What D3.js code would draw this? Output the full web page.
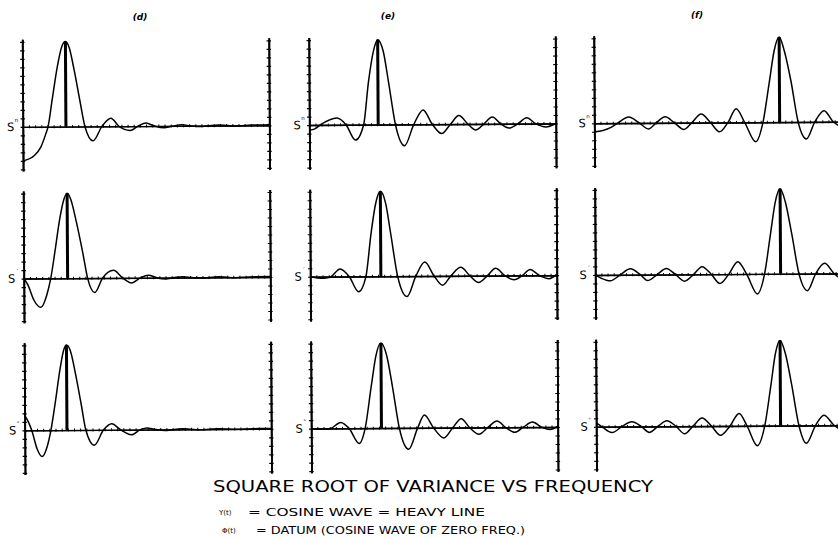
<!DOCTYPE html>
<html>
<head>
<meta charset="utf-8">
<script src="https://cdn.jsdelivr.net/npm/d3@7"></script>
<style>
  body { margin: 0; background: #fff; }
  svg { display: block; }
</style>
</head>
<body>
<div class="chart"></div>
<script>
// sqrt of variance vs frequency, columns (d) (e) (f), three rows each
const panelLetters = ['(d)', '(e)', '(f)'];
const rowMarks = ['n', '\u00b4', '\u00b0'];

// heavy line (cosine wave) position per row
const cosD = [3.5, 3.56, 3.43];
const cosE = [5.59, 5.73, 5.7];
const cosF = [15.04, 15.04, 14.96];

const dRow1 = [[0, -0.40], [0.9, -0.34], [1.45, -0.24], [1.85, -0.09], [2.05, 0], [2.4, 0.32], [2.85, 0.72], [3.2, 0.94], [3.5, 1.0], [3.8, 0.93], [4.2, 0.66], [4.65, 0.3], [5.04, 0], [5.69, -0.17], [6.42, 0], [7.15, 0.095], [7.8, 0], [8.7, -0.05], [9.35, 0], [10.0, 0.035], [10.7, 0], [11.45, -0.02], [12.2, 0], [12.9, 0.012], [13.6, 0], [14.4, -0.01], [15.1, 0], [15.85, 0.008], [16.6, 0], [17.3, -0.006], [18.0, 0], [18.7, 0.006], [19.4, 0.004], [20, 0.01]];
const dRow2 = [[0, 0], [0.35, -0.08], [0.8, -0.25], [1.38, -0.34], [1.85, -0.2], [2.19, 0], [2.55, 0.32], [2.95, 0.7], [3.3, 0.93], [3.56, 1.0], [3.85, 0.93], [4.3, 0.66], [4.8, 0.3], [5.18, 0], [5.75, -0.17], [6.4, 0], [7.29, 0.09], [8.02, 0], [8.74, -0.06], [9.47, 0], [10.1, 0.03], [10.8, 0], [11.5, -0.015], [12.2, 0], [12.9, 0.01], [13.6, 0], [14.4, -0.008], [15.1, 0], [15.8, 0.006], [16.5, 0], [17.2, -0.005], [18.0, 0], [18.8, 0.005], [20, 0.006]];
const dRow3 = [[0, 0.18], [0.3, 0.1], [0.57, 0], [1.0, -0.22], [1.4, -0.31], [1.8, -0.2], [2.13, 0], [2.5, 0.33], [2.9, 0.72], [3.2, 0.94], [3.43, 1.0], [3.75, 0.93], [4.15, 0.66], [4.6, 0.3], [4.96, 0], [5.64, -0.18], [6.4, 0], [7.07, 0.07], [7.77, 0], [8.64, -0.06], [9.39, 0], [9.9, 0.02], [10.6, 0], [11.39, -0.012], [12.1, 0], [12.8, 0.008], [13.5, 0], [14.3, -0.006], [15.0, 0], [15.8, 0.005], [16.6, 0], [17.4, -0.004], [18.2, 0], [19.0, 0.004], [20, 0.004]];

const eRow1 = [[0, -0.06], [0.45, -0.045], [0.89, 0], [2.25, 0.08], [2.98, 0], [3.74, -0.18], [4.41, 0], [4.82, 0.5], [5.23, 0.86], [5.59, 1.0], [6.04, 0.86], [6.45, 0.5], [6.99, 0], [7.72, -0.25], [8.48, 0], [9.24, 0.17], [9.98, 0], [10.73, -0.11], [11.46, 0], [12.14, 0.10], [12.87, 0], [13.5, -0.07], [14.17, 0], [14.85, 0.08], [15.53, 0], [16.2, -0.05], [16.93, 0], [17.64, 0.07], [18.37, 0], [19.19, -0.04], [20, 0]];
const eRow2 = [[0, 0], [0.6, -0.015], [1.13, -0.02], [1.68, 0], [2.43, 0.09], [3.16, 0], [3.92, -0.18], [4.52, 0], [4.95, 0.5], [5.35, 0.86], [5.73, 1.0], [6.15, 0.86], [6.55, 0.5], [7.09, 0], [7.84, -0.24], [8.57, 0], [9.3, 0.165], [10.05, 0], [10.73, -0.11], [11.41, 0], [12.22, 0.10], [12.95, 0], [13.65, -0.08], [14.38, 0], [15.05, 0.085], [15.78, 0], [16.54, -0.05], [17.22, 0], [17.84, 0.07], [18.57, 0], [19.38, -0.04], [20, 0.01]];
const eRow3 = [[0, 0], [0.5, -0.008], [1.04, -0.01], [1.58, 0], [2.4, 0.07], [3.07, 0], [3.89, -0.18], [4.38, 0], [4.9, 0.5], [5.3, 0.86], [5.7, 1.0], [6.15, 0.86], [6.6, 0.5], [7.15, 0], [7.9, -0.25], [8.64, 0], [9.19, 0.15], [9.92, 0], [10.76, -0.12], [11.49, 0], [12.18, 0.105], [12.85, 0], [13.61, -0.08], [14.34, 0], [15.08, 0.075], [15.76, 0], [16.52, -0.06], [17.2, 0], [17.96, 0.06], [18.7, 0], [19.37, -0.03], [20, 0.01]];

const fRow1 = [[0, -0.10], [0.7, -0.085], [1.36, -0.05], [1.9, 0], [2.8, 0.07], [3.66, 0], [4.39, -0.07], [5.02, 0], [5.75, 0.07], [6.5, 0], [7.27, -0.08], [7.92, 0], [8.67, 0.10], [9.43, 0], [10.16, -0.11], [10.85, 0], [11.52, 0.16], [12.2, 0], [13.09, -0.23], [13.69, 0], [14.23, 0.48], [14.63, 0.84], [15.04, 1.0], [15.45, 0.84], [15.98, 0.48], [16.54, 0], [17.21, -0.2], [17.89, 0], [18.65, 0.13], [19.38, 0], [20, -0.06]];
const fRow2 = [[0, 0], [0.5, -0.04], [1.22, -0.07], [2.03, 0], [2.85, 0.07], [3.66, 0], [4.25, -0.07], [5.02, 0], [5.77, 0.07], [6.5, 0], [7.24, -0.08], [7.99, 0], [8.67, 0.09], [9.41, 0], [10.11, -0.11], [10.84, 0], [11.57, 0.145], [12.28, 0], [13.15, -0.235], [13.74, 0], [14.25, 0.48], [14.65, 0.85], [15.04, 1.0], [15.45, 0.85], [15.95, 0.48], [16.53, 0], [17.21, -0.2], [17.89, 0], [18.62, 0.12], [19.37, 0], [20, -0.07]];
const fRow3 = [[0, 0.04], [0.1, 0.035], [0.46, 0], [1.27, -0.07], [2.08, 0], [2.89, 0.055], [3.66, 0], [4.31, -0.07], [5.01, 0], [5.74, 0.065], [6.47, 0], [7.18, -0.09], [7.85, 0], [8.59, 0.095], [9.35, 0], [10.08, -0.11], [10.86, 0], [11.6, 0.145], [12.24, 0], [13.06, -0.235], [13.68, 0], [14.2, 0.48], [14.58, 0.85], [14.96, 1.0], [15.38, 0.85], [15.88, 0.48], [16.45, 0], [17.04, -0.21], [17.8, 0], [18.48, 0.12], [19.3, 0], [20, -0.07]];

const yTicks = [-0.5, -0.4, -0.3, -0.2, -0.1, 0, 0.1, 0.2, 0.3, 0.4, 0.5, 0.6, 0.7, 0.8, 0.9, 1.0];

const curves = [[dRow1, dRow2, dRow3], [eRow1, eRow2, eRow3], [fRow1, fRow2, fRow3]];
const heavy = [cosD, cosE, cosF];

const W = 838, H = 538;
const colX = [22, 308.5, 593.5];
const rowBase = [127, 278.7, 430.5];
const pw = 246.5;
const unit = 85;

let svg = d3.select('.chart').append('svg').attr('width', W).attr('height', H)
  .style('font-family', '"DejaVu Sans", sans-serif');
svg.append('rect').attr('width', W).attr('height', H).attr('fill', '#fff');

let xscale = d3.scaleLinear().domain([0, 20]).range([0, pw]);
let yscale = d3.scaleLinear().domain([-0.52, 1.03]).range([0.52 * unit, -1.03 * unit]);

let line = d3.line()
  .x(d => xscale(d[0]))
  .y(d => yscale(d[1]))
  .curve(d3.curveMonotoneX);

// the scan is turned a little, so the panel grid is too
let grid = svg.append('g').attr('transform', 'rotate(-0.36)');

for (let c = 0; c < 3; c++) {
  for (let r = 0; r < 3; r++) {
    let g = grid.append('g').attr('transform', 'translate(' + colX[c] + ',' + rowBase[r] + ')');

    // vertical axes both sides, ticks crossing the line
    [0, pw].forEach(px => {
      let a = g.append('g').attr('transform', 'translate(' + px + ',0)');
      a.append('g').call(d3.axisLeft(yscale).tickValues(yTicks).tickSize(2.2).tickSizeOuter(0).tickFormat(''));
      a.append('g').call(d3.axisRight(yscale).tickValues(yTicks).tickSize(2.2).tickSizeOuter(0).tickFormat(''));
      a.selectAll('path.domain').attr('stroke-width', 1.8);
      a.selectAll('.tick line').attr('stroke-width', 1.2);
    });

    // datum line
    let b = g.append('g').attr('transform', 'translate(0,' + yscale(0) + ')');
    b.append('g').call(d3.axisBottom(xscale).tickValues(d3.range(0, 20.01, 0.5)).tickSize(1.5).tickSizeOuter(0).tickFormat(''));
    b.append('g').call(d3.axisTop(xscale).tickValues(d3.range(0, 20.01, 0.5)).tickSize(1.5).tickSizeOuter(0).tickFormat(''));
    b.selectAll('path.domain').attr('stroke-width', 1.4);
    b.selectAll('.tick line').attr('stroke-width', 1);

    // heavy line = cosine wave
    g.append('line')
      .attr('x1', xscale(heavy[c][r])).attr('x2', xscale(heavy[c][r]))
      .attr('y1', yscale(0)).attr('y2', yscale(1.0))
      .attr('stroke', '#000').attr('stroke-width', 3);

    g.append('path')
      .datum(curves[c][r])
      .attr('fill', 'none')
      .attr('stroke', '#000')
      .attr('stroke-width', 1.5)
      .attr('d', line);

    g.append('text')
      .attr('x', -8.5).attr('y', yscale(0) + 4)
      .attr('text-anchor', 'end')
      .attr('font-size', 11.5)
      .text('S');
    g.append('text')
      .attr('x', -8).attr('y', yscale(0) - 5)
      .attr('text-anchor', 'start')
      .attr('font-size', 5.5)
      .text(rowMarks[r]);
  }
}

// column letters
const letterX = [140, 388, 697];
const letterY = [20, 18.5, 17.5];
svg.selectAll('.letter').data(panelLetters).enter().append('text')
  .attr('class', 'letter')
  .attr('x', (d, i) => letterX[i]).attr('y', (d, i) => letterY[i])
  .attr('text-anchor', 'middle')
  .attr('font-size', 9)
  .attr('font-style', 'italic')
  .attr('font-weight', 'bold')
  .text(d => d);

svg.append('text')
  .attr('x', 213).attr('y', 491.5)
  .attr('font-size', 16)
  .attr('textLength', 440).attr('lengthAdjust', 'spacingAndGlyphs')
  .text('SQUARE ROOT OF VARIANCE VS FREQUENCY');

svg.append('text').attr('x', 219).attr('y', 515).attr('font-size', 7).text('Y(t)');
svg.append('text')
  .attr('x', 248).attr('y', 515.5)
  .attr('font-size', 11)
  .attr('textLength', 237).attr('lengthAdjust', 'spacingAndGlyphs')
  .text('= COSINE WAVE = HEAVY LINE');

svg.append('text').attr('x', 222).attr('y', 533).attr('font-size', 7).text('\u03a6(t)');
svg.append('text')
  .attr('x', 256).attr('y', 533.5)
  .attr('font-size', 10)
  .attr('textLength', 269).attr('lengthAdjust', 'spacingAndGlyphs')
  .text('= DATUM (COSINE WAVE OF ZERO FREQ.)');
</script>
</body>
</html>
